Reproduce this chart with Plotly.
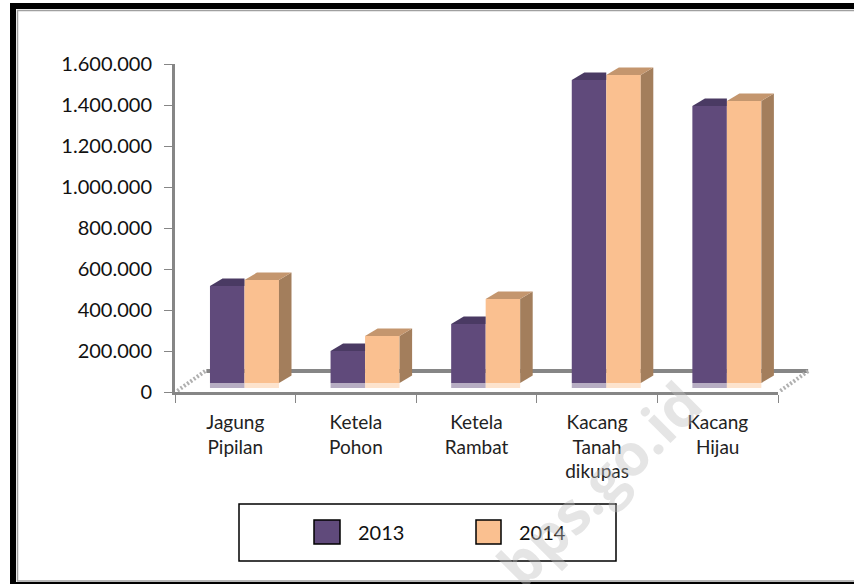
"""
Produksi palawija 2013 / 2014 as a fake-3D clustered column chart.
"""

import plotly.graph_objects as go

categories = ["Jagung<br>Pipilan", "Ketela<br>Pohon", "Ketela<br>Rambat", "Kacang<br>Tanah<br>dikupas", "Kacang<br>Hijau"]
values_2013 = [473000, 156000, 288000, 1478000, 1351000]
values_2014 = [502000, 229000, 410000, 1502000, 1376000]
y_ticks = [0, 200000, 400000, 600000, 800000, 1000000, 1200000, 1400000, 1600000]

FONT = "Lato"
GREY = "#868686"
FLOOR = 44000        # bars stand this far up the axis (mid depth of the floor)
WALL = 102000        # back wall base line
DX, DY = 0.104, 36600  # depth of a bar in axis units
BAR_W = 0.286

series = [
    ("2013", values_2013, 0.29, "#604a7b", "#4a3a63", None),
    ("2014", values_2014, 0.576, "#fac090", "#c4966e", "#a37e5c"),
]

fig = go.Figure()

for name, vals, off, front, top, side in series:
    xs = [i + off for i in range(len(vals))]
    tops = [v + FLOOR for v in vals]
    # side and top faces; the 2013 column is hidden behind 2014 on its right
    for x, t in zip(xs, tops):
        r = x + BAR_W
        if side:
            fig.add_trace(go.Scatter(x=[r, r + DX, r + DX, r, r], y=[t, t + DY, FLOOR + DY, FLOOR, t],
                                     mode="lines", fill="toself", fillcolor=side, line=dict(width=0),
                                     showlegend=False, hoverinfo="skip"))
            top_x = [x, x + DX, r + DX, r, x]
        else:
            top_x = [x, x + DX, r, r, x]
        fig.add_trace(go.Scatter(x=top_x, y=[t, t + DY, t + DY, t, t],
                                 mode="lines", fill="toself", fillcolor=top, line=dict(width=0),
                                 showlegend=False, hoverinfo="skip"))
    fig.add_trace(go.Bar(x=xs, y=vals, base=FLOOR, width=BAR_W, offset=0, name=name,
                         marker=dict(color=front, line=dict(width=0)), showlegend=False))
    # pale strip where the bar meets the floor
    fig.add_trace(go.Bar(x=xs, y=[24000] * len(xs), base=20000, width=BAR_W, offset=0,
                         marker=dict(color=front, opacity=0.45, line=dict(width=0)),
                         showlegend=False, hoverinfo="skip"))

fig.update_layout(
    width=854, height=584,
    margin=dict(l=175, r=76, t=64, b=192),
    paper_bgcolor="white", plot_bgcolor="white",
    barmode="overlay",
    separators=",.",
    font=dict(family=FONT, size=20, color="#111111"),
    showlegend=False,
    xaxis=dict(
        range=[0, 5], tickvals=[i + 0.5 for i in range(5)], ticktext=categories,
        ticks="", ticklen=0, showgrid=False, zeroline=False,
        showline=True, linecolor=GREY, linewidth=3,
        tickfont=dict(size=19, color="#222222"), ticklabelstandoff=11,
        minor=dict(tickvals=[0, 1, 2, 3, 4, 5], ticks="outside", ticklen=8, tickcolor=GREY, tickwidth=1, showgrid=False),
    ),
    yaxis=dict(
        range=[0, 1600000], tickvals=y_ticks, tickformat=",d",
        ticks="outside", ticklen=8, tickcolor=GREY, tickwidth=1, ticklabelstandoff=8,
        showgrid=False, zeroline=False, showline=True, linecolor=GREY, linewidth=3,
        tickfont=dict(size=20),
    ),
)

plot_w, plot_h = 854 - 175 - 76, 584 - 64 - 192


def px_x(x):
    return (x - 175) / plot_w


def px_y(y):
    return (392 - y) / plot_h


shapes = [
    # black outer frame with thin grey inner line
    dict(type="rect", x0=px_x(13), x1=px_x(870), y0=px_y(6), y1=px_y(585), line=dict(color="black", width=6)),
    dict(type="rect", x0=px_x(17.5), x1=px_x(870), y0=px_y(10.5), y1=px_y(581), line=dict(color="#a0a0a0", width=1.5)),
    # legend box and swatches
    dict(type="rect", x0=px_x(239), x1=px_x(616), y0=px_y(504), y1=px_y(561), line=dict(color="black", width=1.5)),
    dict(type="rect", x0=px_x(314), x1=px_x(340), y0=px_y(520), y1=px_y(544), line=dict(color="black", width=1.5), fillcolor="#604a7b"),
    dict(type="rect", x0=px_x(476), x1=px_x(501), y0=px_y(520), y1=px_y(544), line=dict(color="black", width=1.5), fillcolor="#fac090"),
]
for s in shapes:
    s.update(xref="paper", yref="paper", layer="above")

# floor: back line and the two hatched edges, under the bars
shapes.append(dict(type="line", xref="paper", yref="y", layer="below", x0=0.26 / 5, x1=5.25 / 5, y0=WALL, y1=WALL,
                   line=dict(color=GREY, width=4)))
for x0 in (0, 5):
    shapes.append(dict(type="line", xref="paper", yref="y", layer="below", x0=(x0 + 0.02) / 5, x1=(x0 + 0.25) / 5,
                       y0=6000, y1=WALL, line=dict(color="#b0b0b0", width=4, dash="2px 2px")))
fig.update_layout(shapes=shapes)


def note(x, y, text, **kw):
    fig.add_annotation(x=px_x(x), y=px_y(y), xref="paper", yref="paper", text=text, showarrow=False,
                       xanchor="center", yanchor="middle", **kw)


note(381, 532, "2013", font=dict(size=20, color="#111111"))
note(542, 532, "2014", font=dict(size=20, color="#111111"))
note(598, 483, "bps.go.id", textangle=-45, font=dict(family="Open Sans", size=58, color="rgba(190,190,190,0.4)", weight="bold"))

fig.write_html("out.html", config=dict(displayModeBar=False),
               post_script="document.body.style.margin='0';document.body.style.overflow='hidden';")
